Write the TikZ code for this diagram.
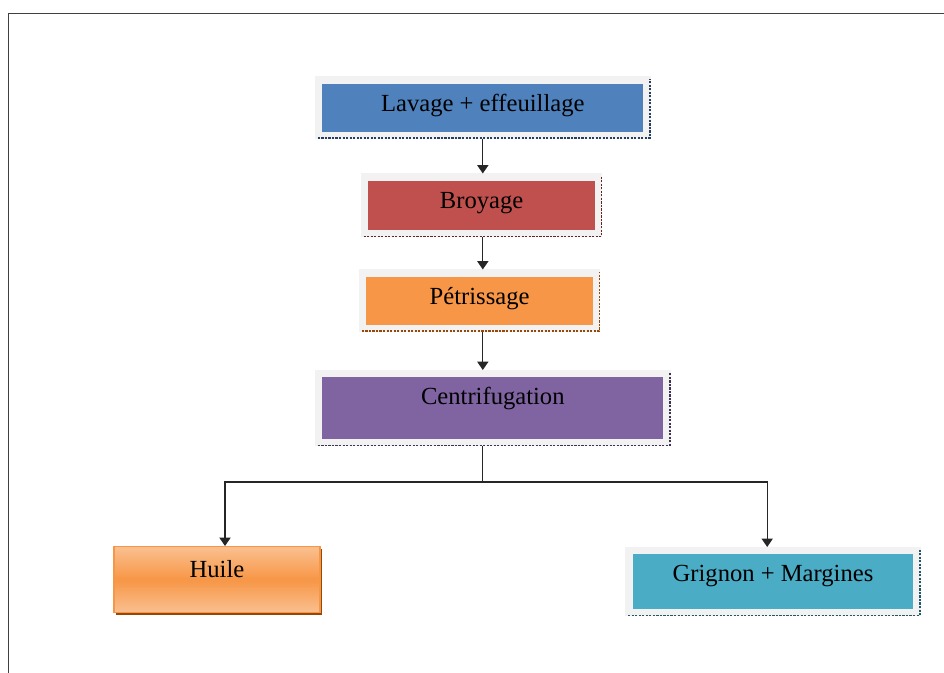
\documentclass[tikz,border=0pt]{standalone}
\usepackage{fontspec}
\setmainfont{Liberation Serif}
\usetikzlibrary{arrows.meta,shadows}

\definecolor{bleu}{HTML}{4F81BD}
\definecolor{rouge}{HTML}{C0504D}
\definecolor{orange}{HTML}{F79646}
\definecolor{violet}{HTML}{8064A2}
\definecolor{turquoise}{HTML}{4BACC6}
\definecolor{orangeclair}{HTML}{FAC090}
\definecolor{bordure}{HTML}{F2F2F2}
\definecolor{ombrebleu}{HTML}{243F60}
\definecolor{ombrerouge}{HTML}{632523}
\definecolor{ombreorange}{HTML}{974806}
\definecolor{ombreviolet}{HTML}{3F3151}
\definecolor{ombreturquoise}{HTML}{205867}

\begin{document}
\begin{tikzpicture}[
		etape/.style={rectangle, draw=bordure, line width=5pt, inner sep=0pt, anchor=north, text height=0.78cm, font=\fontsize{17.5}{21}\selectfont},
		ombre/.style={dash pattern=on 1.5pt off 1pt, line width=1pt},
		fleche/.style={-{Triangle[length=6pt,width=8pt]}, line width=0.8pt, black!85},
		trait/.style={line width=0.8pt, black!85},
		cadre/.style={line width=1.4pt, black!75}
	]
		\useasboundingbox (0,0) rectangle (23.6,16.825);

	% Cadre
		\draw[cadre] (0.2125,0) -- (0.2125,16.4875) -- (23.6,16.4875);

	% Etapes
		\node[etape, fill=bleu, minimum width=8.21cm, text depth=0.6cm] (lavage) at (12.07,14.9125) {Lavage + effeuillage};
		\node[etape, fill=rouge, minimum width=5.86cm, text depth=0.63cm] (broyage) at (12.04,12.4875) {Broyage};
		\node[etape, fill=orange, minimum width=5.85cm, text depth=0.6cm] (petrissage) at (11.99,10.0875) {Pétrissage};
		\node[etape, fill=violet, minimum width=8.71cm, text depth=0.945cm] (centrif) at (12.32,7.575) {Centrifugation};
		\node[etape, fill=turquoise, minimum width=7.2cm, text depth=0.77cm] (grignon) at (19.325,3.15) {Grignon + Margines};
		\node[etape, draw=orange, line width=0.8pt, top color=orangeclair, bottom color=orangeclair, middle color=orange, minimum width=5.15cm, text depth=0.87cm, drop shadow={shadow xshift=1.5pt, shadow yshift=-1.5pt, fill=ombreorange, opacity=1}] (huile) at (5.425,3.175) {Huile};

	% Ombres
		\foreach \n/\c in {lavage/ombrebleu, broyage/ombrerouge, petrissage/ombreorange, centrif/ombreviolet, grignon/ombreturquoise}
			\draw[ombre, \c] ([shift={(2pt,0.5pt)}]\n.south west) -- ([shift={(-0.5pt,0.5pt)}]\n.south east) -- ([shift={(-0.5pt,-2pt)}]\n.north east);

	% Fleches
		\coordinate (axe) at (12.07,0);
		\coordinate (noeud) at (12.07,4.775);
		\coordinate (gauche) at (5.625,4.775);
		\coordinate (droite) at (19.18,4.775);
		\draw[fleche] (lavage.south -| axe) -- (broyage.north -| axe);
		\draw[fleche] (broyage.south -| axe) -- (petrissage.north -| axe);
		\draw[fleche] (petrissage.south -| axe) -- (centrif.north -| axe);
		\draw[trait] (centrif.south -| axe) -- (noeud);
		\draw[fleche] (noeud) -| (huile.north -| gauche);
		\draw[fleche] (noeud) -| (grignon.north -| droite);
\end{tikzpicture}
\end{document}
